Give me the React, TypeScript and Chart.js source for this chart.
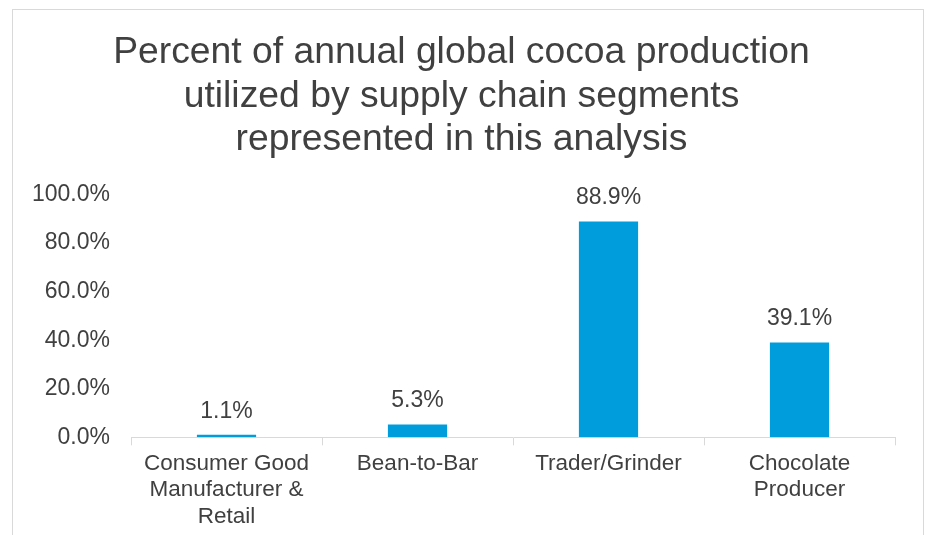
import React, { useEffect, useRef } from "react";
import { Chart, registerables } from "chart.js";

Chart.register(...registerables);

const titleLines = [
  "Percent of annual global cocoa production",
  "utilized by supply chain segments",
  "represented in this analysis",
];
const categories: (string | string[])[] = [
  ["Consumer Good", "Manufacturer &", "Retail"],
  "Bean-to-Bar",
  "Trader/Grinder",
  ["Chocolate", "Producer"],
];
const shares = [1.1, 5.3, 88.9, 39.1];
const yMin = 0;
const yMax = 100;
const yStep = 20;

const FONT = "'Liberation Sans', Arial, Helvetica, sans-serif";
const TEXT = "#404040";
const BAR = "#009DDC";
const LINE = "#d9d9d9";

const valueLabels = {
  id: "valueLabels",
  afterDatasetsDraw(chart: any) {
    const ctx = chart.ctx;
    const meta = chart.getDatasetMeta(0);
    const data = chart.data.datasets[0].data as number[];
    ctx.save();
    ctx.font = `23px ${FONT}`;
    ctx.fillStyle = TEXT;
    ctx.textAlign = "center";
    ctx.textBaseline = "alphabetic";
    meta.data.forEach((bar: any, i: number) => {
      ctx.fillText(data[i].toFixed(1) + "%", bar.x, bar.y - 17);
    });
    ctx.restore();
  },
};

export default function App() {
  const ref = useRef<HTMLCanvasElement>(null);
  useEffect(() => {
    if (!ref.current) return;
    const chart = new Chart(ref.current, {
      type: "bar",
      data: {
        labels: categories,
        datasets: [
          {
            data: shares,
            backgroundColor: BAR,
            barPercentage: 0.31,
            categoryPercentage: 1.0,
          },
        ],
      },
      options: {
        responsive: false,
        animation: false,
        devicePixelRatio: 1,
        layout: { padding: { left: 28, right: 33, top: 0, bottom: 0 } },
        plugins: {
          legend: { display: false },
          tooltip: { enabled: false },
          title: {
            display: true,
            text: titleLines,
            color: TEXT,
            font: { family: FONT, size: 37.3, weight: "normal", lineHeight: 1.166 },
            padding: { top: 31, bottom: 33 },
          },
        },
        scales: {
          x: {
            grid: {
              display: true,
              drawOnChartArea: false,
              drawTicks: true,
              tickLength: 8,
              color: LINE,
              offset: true,
            },
            border: { display: true, color: LINE, width: 1 },
            ticks: {
              color: TEXT,
              font: { family: FONT, size: 22.5, lineHeight: 1.18 },
              padding: 5,
              maxRotation: 0,
              autoSkip: false,
            },
          },
          y: {
            min: yMin,
            max: yMax,
            grid: { display: false, drawTicks: false, tickLength: 0 },
            border: { display: false },
            afterFit: (axis: any) => {
              axis.width = 103;
            },
            ticks: {
              stepSize: yStep,
              color: TEXT,
              font: { family: FONT, size: 23 },
              padding: 21,
              callback: (v: any) => Number(v).toFixed(1) + "%",
            },
          },
        },
      },
      plugins: [valueLabels],
    });
    return () => chart.destroy();
  }, []);
  return (
    <>
      <div
        style={{
          position: "fixed",
          left: 12,
          top: 9,
          width: 912,
          height: 600,
          border: `1px solid ${LINE}`,
          boxSizing: "border-box",
        }}
      />
      <canvas
        ref={ref}
        width={928}
        height={535}
        style={{ position: "fixed", left: 0, top: 0, display: "block" }}
      />
    </>
  );
}
